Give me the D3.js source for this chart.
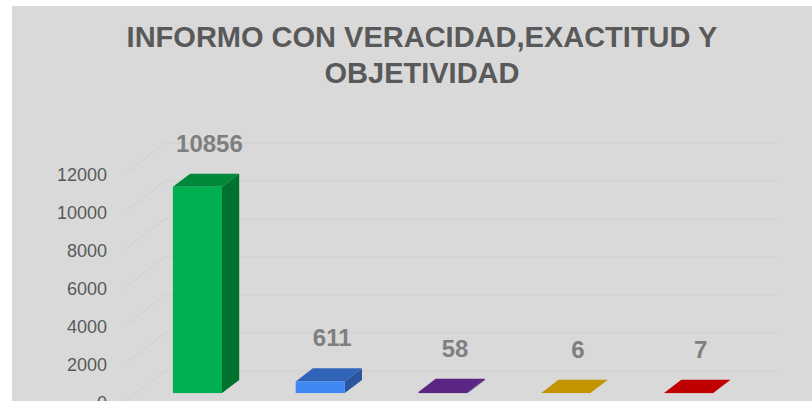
<!DOCTYPE html>
<html>
<head>
<meta charset="utf-8">
<script src="https://cdn.jsdelivr.net/npm/d3@7"></script>
<style>
  body { margin: 0; background: #fff; }
  svg { display: block; }
</style>
</head>
<body>
<script>
var width = 812,
    height = 401;

var categories = ["A", "B", "C", "D", "E"];
var values = [10856, 611, 58, 6, 7];
var yTicks = [0, 2000, 4000, 6000, 8000, 10000, 12000];
var titleLines = ["INFORMO CON VERACIDAD,EXACTITUD Y", "OBJETIVIDAD"];

var frontColors = ["#00b050", "#4088f2", "#5a2583", "#c49400", "#c00000"];
var topColors = ["#00883b", "#2f64b9", "#5a2583", "#c49400", "#c00000"];
var sideColors = ["#00712f", "#2a55a0", "#4a1d6c", "#a27a00", "#9e0000"];

// 3d depth of the plot (front plane -> back wall)
var depthX = 42,
    depthY = -32;
var barFront = 0.31,
    barBack = 0.72;

var xScale = d3.scaleBand()
    .domain(categories)
    .range([123, 737])
    .paddingInner(0.6)
    .paddingOuter(0.3);

var yScale = d3.scaleLinear()
    .domain([0, 12000])
    .range([403, 175]);

var svg = d3.select("body")
    .append("svg")
    .attr("width", width)
    .attr("height", height);

svg.append("rect")
    .attr("x", 12)
    .attr("y", 6)
    .attr("width", width - 12)
    .attr("height", height - 6)
    .attr("fill", "#d9d9d9");

// title
svg.append("text")
    .attr("x", 422)
    .attr("y", 47)
    .attr("text-anchor", "middle")
    .attr("font-family", "Liberation Sans, Arial, sans-serif")
    .attr("font-weight", "bold")
    .attr("font-size", 29)
    .attr("fill", "#595959")
    .selectAll("tspan")
    .data(titleLines)
    .enter()
    .append("tspan")
    .attr("x", 422)
    .attr("dy", function(d, i) { return i == 0 ? 0 : 36; })
    .text(function(d) { return d; });

// gridlines: side wall diagonal + back wall
var grid = svg.append("g");

grid.selectAll("path")
    .data(yTicks)
    .enter()
    .append("path")
    .attr("d", function(d) {
        var y = yScale(d);
        return "M123," + y + "L" + (123 + depthX) + "," + (y + depthY) + "H" + (737 + depthX);
    })
    .attr("fill", "none")
    .attr("stroke", "#cfcfcf")
    .attr("stroke-width", 1);

// y axis labels
svg.append("g")
    .selectAll("text")
    .data(yTicks)
    .enter()
    .append("text")
    .attr("x", 107)
    .attr("y", function(d) { return yScale(d); })
    .attr("dy", "0.35em")
    .attr("text-anchor", "end")
    .attr("font-family", "Liberation Sans, Arial, sans-serif")
    .attr("font-size", 18)
    .attr("fill", "#595959")
    .text(function(d) { return d; });

// bars
var fx = depthX * barFront, fy = depthY * barFront;
var bx = depthX * barBack, by = depthY * barBack;
var bw = xScale.bandwidth();

var bars = svg.selectAll(".bar")
    .data(values)
    .enter()
    .append("g")
    .attr("class", "bar");

// top face
bars.append("path")
    .attr("d", function(d, i) {
        var x = xScale(categories[i]), y = yScale(d);
        return "M" + (x + fx) + "," + (y + fy) +
            "L" + (x + bx) + "," + (y + by) +
            "L" + (x + bx + bw) + "," + (y + by) +
            "L" + (x + fx + bw) + "," + (y + fy) + "Z";
    })
    .attr("fill", function(d, i) { return topColors[i]; });

// side face
bars.append("path")
    .attr("d", function(d, i) {
        var x = xScale(categories[i]) + bw, y = yScale(d), y0 = yScale(0);
        return "M" + (x + fx) + "," + (y + fy) +
            "L" + (x + bx) + "," + (y + by) +
            "L" + (x + bx) + "," + (y0 + by) +
            "L" + (x + fx) + "," + (y0 + fy) + "Z";
    })
    .attr("fill", function(d, i) { return sideColors[i]; });

// front face
bars.append("rect")
    .attr("x", function(d, i) { return xScale(categories[i]) + fx; })
    .attr("y", function(d) { return yScale(d) + fy; })
    .attr("width", bw)
    .attr("height", function(d) { return yScale(0) - yScale(d); })
    .attr("fill", function(d, i) { return frontColors[i]; });

// value labels
svg.selectAll(".label")
    .data(values)
    .enter()
    .append("text")
    .attr("class", "label")
    .attr("x", function(d, i) { return xScale(categories[i]) + fx + bw / 2 + 12; })
    .attr("y", function(d) { return yScale(d) + by - 22; })
    .attr("text-anchor", "middle")
    .attr("font-family", "Liberation Sans, Arial, sans-serif")
    .attr("font-weight", "bold")
    .attr("font-size", 24)
    .attr("fill", "#7f7f7f")
    .text(function(d) { return d; });
</script>
</body>
</html>
